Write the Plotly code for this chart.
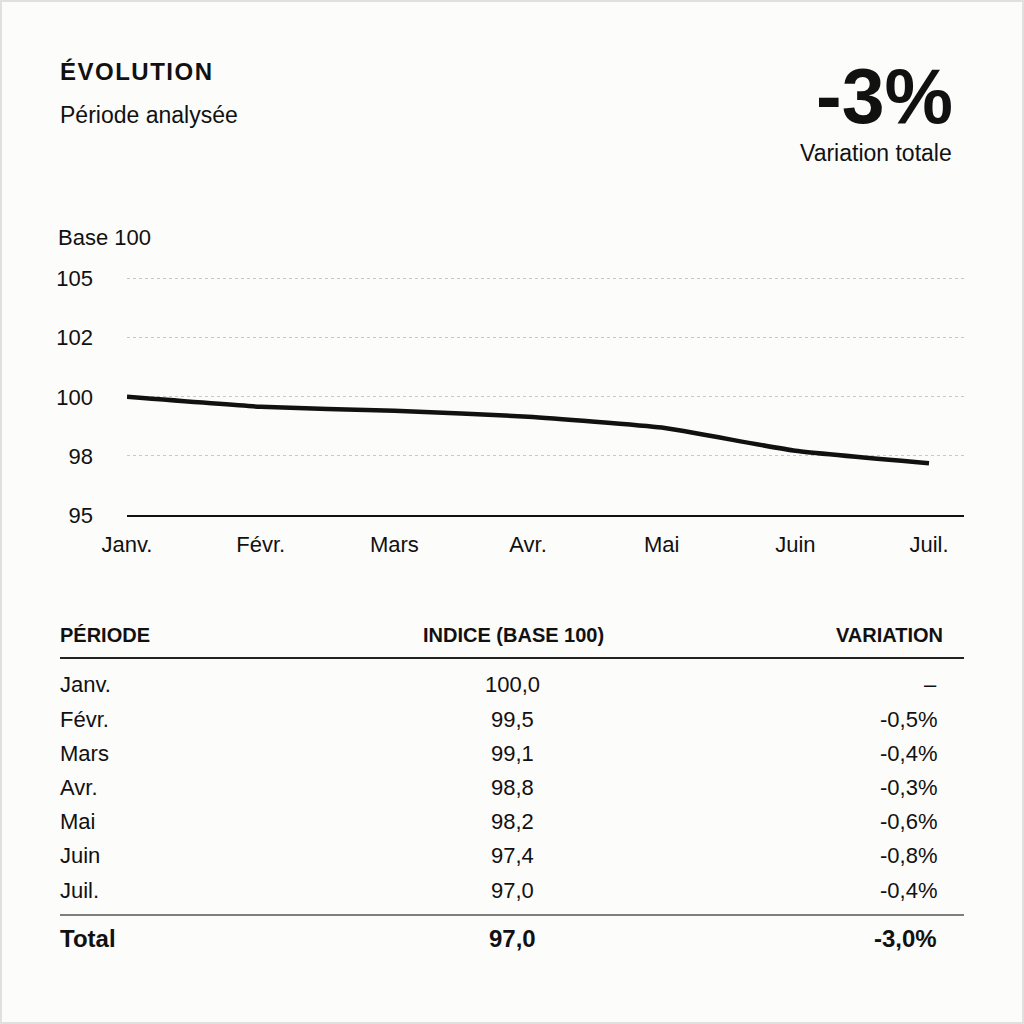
import plotly.graph_objects as go

# ---- data ----
months = ["Janv.", "Févr.", "Mars", "Avr.", "Mai", "Juin", "Juil."]
line_index = [100.0, 99.58, 99.41, 99.16, 98.70, 97.72, 97.19]
table_index = [100.0, 99.5, 99.1, 98.8, 98.2, 97.4, 97.0]         # table values
table_variation = [None, -0.5, -0.4, -0.3, -0.6, -0.8, -0.4]
total_index = 97.0
total_variation = -3.0
headline = "-3%"
y_tickvals = [95, 97.5, 100, 102.5, 105]
y_ticktext = ["95", "98", "100", "102", "105"]
col_headers = ["PÉRIODE", "INDICE (BASE 100)", "VARIATION"]

FONT = "Liberation Sans, Arial, Helvetica, sans-serif"
INK = "#111111"

# plot area in pixels (y range extended slightly above 105 so its gridline shows)
Y_LO, Y_HI = 95, 105.2
L, R, B = 127, 964, 515
PX_PER_UNIT = (515 - 278.7) / 10
T = B - (Y_HI - Y_LO) * PX_PER_UNIT
W = H = 1024


def px(x):
    return (x - L) / (R - L)


def py(y):
    return (B - y) / (B - T)


def fr(v, d=1):
    return f"{v:.{d}f}".replace(".", ",")


fig = go.Figure()
fig.add_trace(go.Scatter(
    x=list(range(len(months))), y=line_index, mode="lines",
    line=dict(color=INK, width=4.5, shape="spline", smoothing=0.4),
    cliponaxis=False, hoverinfo="skip", showlegend=False,
))

ann = []


def text(x, y, s, size=22, anchor="left", color=INK):
    ann.append(dict(xref="paper", yref="paper", x=px(x), y=py(y), text=s,
                    showarrow=False, xanchor=anchor, yanchor="middle",
                    borderpad=0,
                    font=dict(family=FONT, size=size, color=color)))


# header
text(59, 71, '<b><span style="letter-spacing:1.5px">ÉVOLUTION</span></b>', 24)
text(59, 115, "Période analysée", 23)
text(954, 96, f"<b>{headline}</b>", 77, "right")
text(953, 153, "Variation totale", 23, "right")
text(57, 237, "Base 100", 22)

# table
text(59, 635, f"<b>{col_headers[0]}</b>", 20)
text(513, 635, f"<b>{col_headers[1]}</b>", 20, "center")
text(944, 635, f"<b>{col_headers[2]}</b>", 20, "right")
row_y0, row_dy = 685, 34.2
for i, m in enumerate(months):
    y = row_y0 + i * row_dy
    text(59, y, m, 22)
    text(512, y, fr(table_index[i]), 22, "center")
    v = table_variation[i]
    text(938, y, "–" if v is None else fr(v) + "%", 22, "right")
text(59, 939, "<b>Total</b>", 24)
text(512, 939, f"<b>{fr(total_index)}</b>", 24, "center")
text(938, 939, f"<b>{fr(total_variation)}%</b>", 24, "right")

shapes = [
    dict(type="line", xref="paper", yref="paper", x0=px(60), x1=px(964),
         y0=py(658), y1=py(658), line=dict(color="#222222", width=2)),
    dict(type="line", xref="paper", yref="paper", x0=px(60), x1=px(964),
         y0=py(915), y1=py(915), line=dict(color="#555555", width=1.5)),
    dict(type="rect", xref="paper", yref="paper", x0=px(1), x1=px(1023),
         y0=py(1023), y1=py(1), line=dict(color="#e0e0e0", width=2)),
]

fig.update_layout(
    width=W, height=H,
    margin=dict(l=L, r=W - R, t=T, b=H - B, pad=0),
    paper_bgcolor="#fcfcfb", plot_bgcolor="#fcfcfb",
    font=dict(family=FONT, color=INK, size=22),
    annotations=ann, shapes=shapes, showlegend=False,
    xaxis=dict(range=[0, 6 * (R - L) / (929 - L)], tickvals=list(range(len(months))),
               ticktext=months, showgrid=False, zeroline=False,
               showline=True, linecolor=INK, linewidth=1.5, ticks="",
               ticklabelstandoff=9, tickfont=dict(size=22, color=INK),
               fixedrange=True),
    yaxis=dict(range=[Y_LO, Y_HI], tickvals=y_tickvals, ticktext=y_ticktext,
               showgrid=True, gridcolor="#c8c8c8", griddash="dot", gridwidth=1,
               zeroline=False, showline=False, ticks="",
               ticklabelstandoff=33, tickfont=dict(size=22, color=INK),
               fixedrange=True),
)

fig.write_html("out.html")
